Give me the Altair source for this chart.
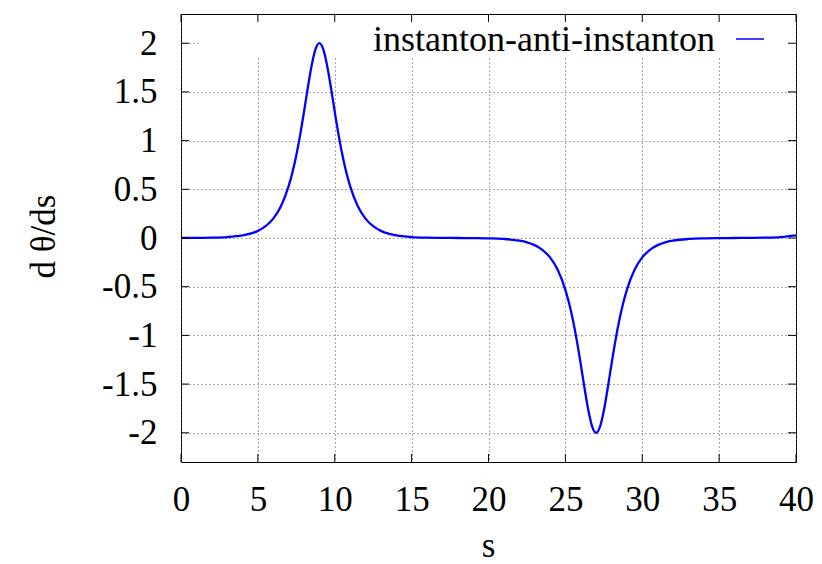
import altair as alt
import pandas as pd

# ---- data ----
s_vals = [0, 1, 2, 3, 4, 4.5, 5, 5.5, 6, 6.5, 7, 7.25, 7.5, 7.75, 8, 8.25, 8.5, 8.75,
          9, 9.25, 9.5, 9.75, 10, 10.25, 10.5, 10.75, 11, 11.5, 12, 12.5, 13, 13.5,
          14, 15, 16, 17, 18, 19, 20, 21, 22, 22.5, 23, 23.5, 24, 24.5, 25, 25.25,
          25.5, 25.75, 26, 26.25, 26.5, 26.75, 27, 27.25, 27.5, 27.75, 28, 28.25,
          28.5, 28.75, 29, 29.5, 30, 30.5, 31, 31.5, 32, 33, 34, 35, 36, 37, 38, 39, 40]
dtheta = [0.0005, 0.0013, 0.0036, 0.0099, 0.027, 0.044, 0.073, 0.121, 0.199, 0.326,
          0.532, 0.675, 0.850, 1.059, 1.296, 1.545, 1.774, 1.939,
          2.0, 1.939, 1.774, 1.545, 1.296, 1.059, 0.850, 0.675, 0.532, 0.326, 0.199,
          0.121, 0.073, 0.044, 0.027, 0.0099, 0.0036, 0.0013, 0.0, -0.0013, -0.0036,
          -0.0099, -0.027, -0.044, -0.073, -0.121, -0.199, -0.326, -0.532, -0.675,
          -0.850, -1.059, -1.296, -1.545, -1.774, -1.939, -2.0, -1.939, -1.774,
          -1.545, -1.296, -1.059, -0.850, -0.675, -0.532, -0.326, -0.199, -0.121,
          -0.073, -0.044, -0.027, -0.0099, -0.0036, -0.0013, 0.0, 0.0013, 0.0036,
          0.0099, 0.027]
series_name = "instanton-anti-instanton"
x_ticks = [0, 5, 10, 15, 20, 25, 30, 35, 40]
y_ticks = [-2, -1.5, -1, -0.5, 0, 0.5, 1, 1.5, 2]

df = pd.DataFrame({"s": s_vals, "v": dtheta, "series": series_name})
xt = pd.DataFrame({"s": x_ticks})
yt = pd.DataFrame({"v": y_ticks})
leg = pd.DataFrame({"series": [series_name]})

FONT = "Liberation Serif"
FS = 35
W, H = 615, 448

xscale = alt.Scale(domain=[0, 40], nice=False, zero=False)
yscale = alt.Scale(domain=[-2.3, 2.3], nice=False, zero=False)

xaxis = alt.Axis(values=x_ticks, title="s", grid=True, gridDash=[1, 3],
                 gridColor="#555", gridWidth=1, ticks=False, tickSize=0,
                 domain=False, labelFont=FONT, labelFontSize=FS,
                 labelColor="black", labelBaseline="alphabetic",
                 labelPadding=48, labelFlush=False, labelOverlap=False,
                 titleFont=FONT, titleFontSize=FS, titleFontWeight="normal",
                 titleColor="black", titleX=307, titleY=94,
                 titleBaseline="alphabetic", titleAlign="center")
yaxis = alt.Axis(values=y_ticks, title="d θ/ds", grid=True, gridDash=[1, 3],
                 gridColor="#555", gridWidth=1, ticks=False, tickSize=0,
                 domain=False, labelFont=FONT, labelFontSize=FS,
                 labelColor="black", labelAlign="right", labelBaseline="middle",
                 labelPadding=24, labelFlush=False, labelOverlap=False,
                 labelExpr="datum.value < 0 ? '-' + format(-datum.value, '~g') : format(datum.value, '~g')",
                 titleFont=FONT, titleFontSize=FS, titleFontWeight="normal",
                 titleColor="black", titleAngle=270, titleX=-127, titleY=222,
                 titleBaseline="alphabetic", titleAlign="center")

X = alt.X("s:Q", scale=xscale, axis=xaxis)
Y = alt.Y("v:Q", scale=yscale, axis=yaxis)

# opaque key box (covers the grid behind the key)
key_box = alt.Chart(leg).mark_rect(color="white").encode(
    x=alt.value(19), x2=alt.value(614), y=alt.value(1), y2=alt.value(44)
)

base_line = alt.Chart(df).mark_line(color="#0000ff", strokeWidth=2.3,
                                    interpolate="monotone").encode(x=X, y=Y)

# inward ticks on all four sides
tick_bottom = alt.Chart(xt).mark_rule(color="black", strokeWidth=1).encode(
    x=X, y=alt.value(H), y2=alt.value(H - 8))
tick_top = alt.Chart(xt).mark_rule(color="black", strokeWidth=1).encode(
    x=X, y=alt.value(0), y2=alt.value(8))
tick_left = alt.Chart(yt).mark_rule(color="black", strokeWidth=1).encode(
    y=Y, x=alt.value(0), x2=alt.value(8))
tick_right = alt.Chart(yt).mark_rule(color="black", strokeWidth=1).encode(
    y=Y, x=alt.value(W), x2=alt.value(W - 8))

key_text = alt.Chart(leg).mark_text(font=FONT, fontSize=36, color="black",
                                    align="right", baseline="alphabetic").encode(
    text="series:N", x=alt.value(534), y=alt.value(37))
key_sample = alt.Chart(leg).mark_rule(color="#0000ff", strokeWidth=1.5).encode(
    x=alt.value(555), x2=alt.value(583), y=alt.value(25))

chart = alt.layer(
    key_box, base_line, tick_bottom, tick_top, tick_left, tick_right,
    key_text, key_sample
).properties(
    width=W, height=H,
    autosize=alt.AutoSizeParams(type="none"),
    padding={"left": 181, "top": 14, "right": 26, "bottom": 102},
    background="white",
).configure_view(
    stroke="black", strokeWidth=1
)

chart.save("out.html", embed_options={"renderer": "svg", "actions": False})
